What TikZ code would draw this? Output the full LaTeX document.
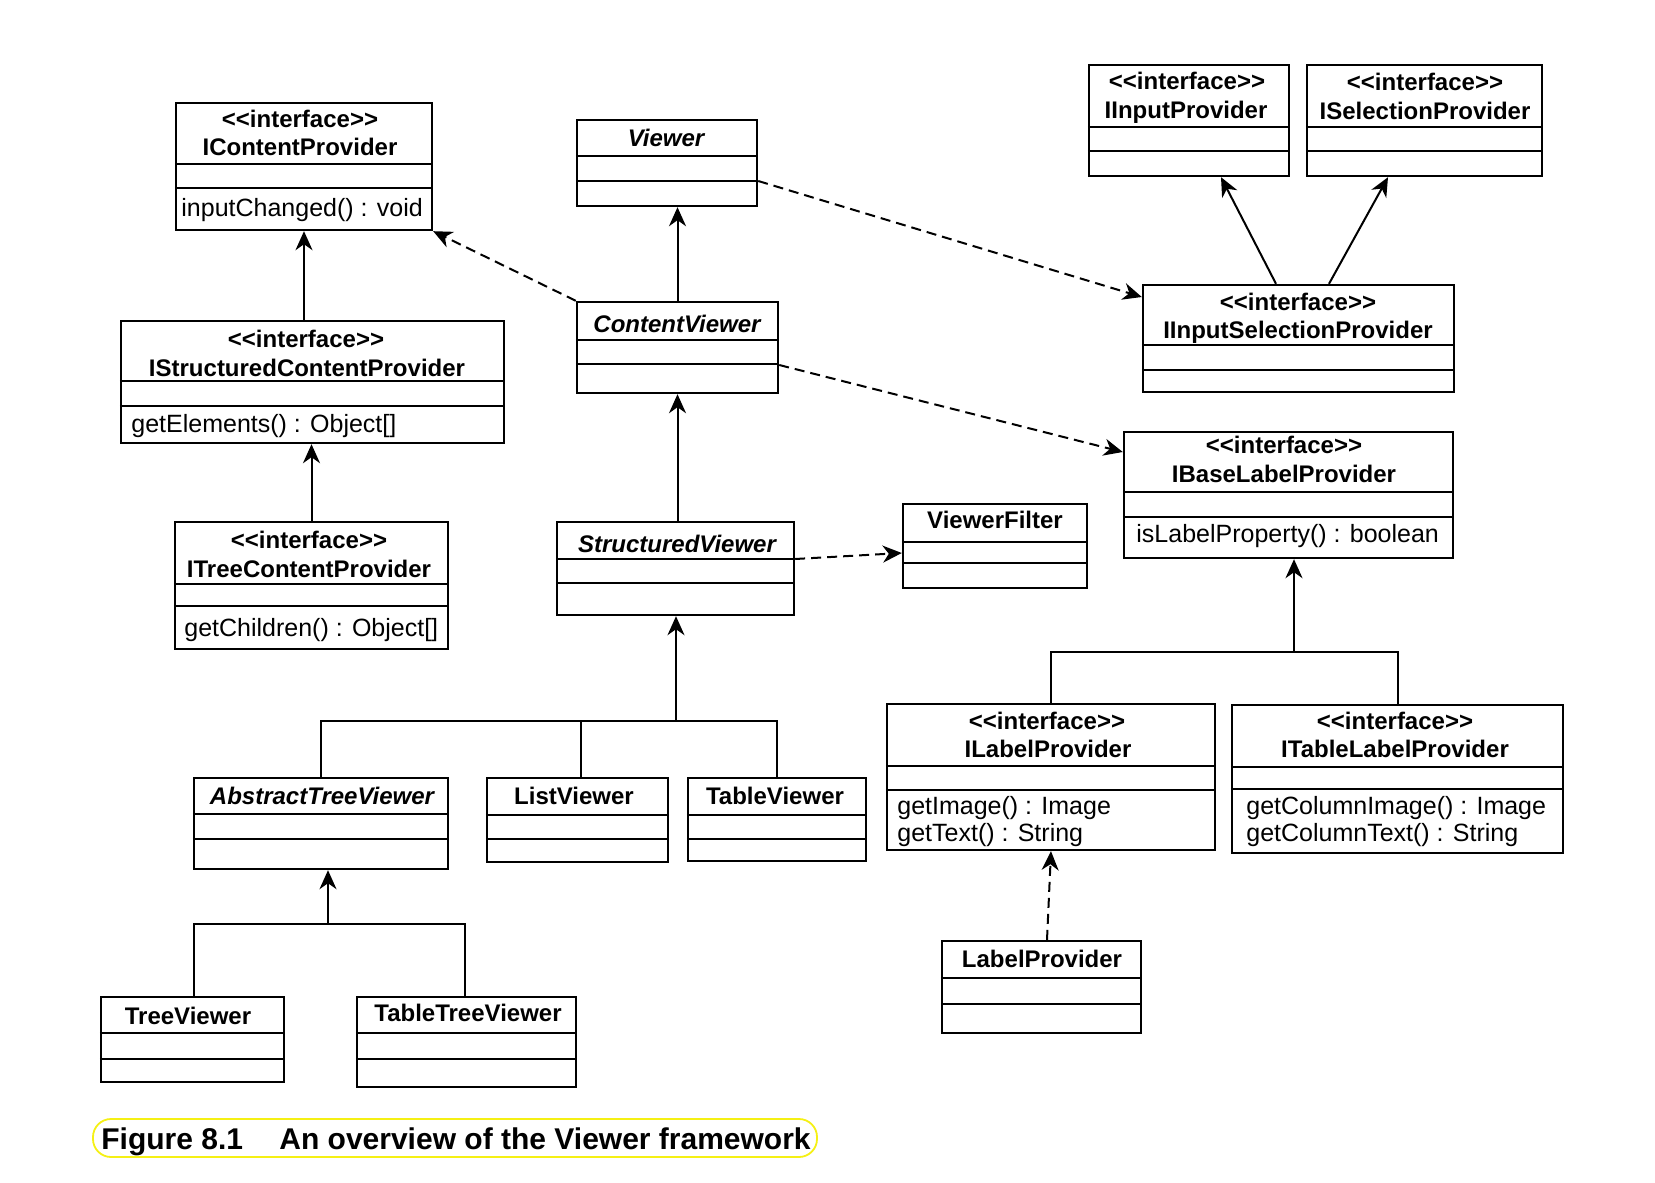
\documentclass[tikz,border=0pt]{standalone}
\usepackage{fontspec}
\setmainfont{Liberation Sans}
\usetikzlibrary{arrows.meta,fit}
\tikzset{
  cls/.style={draw, line width=1.2pt, inner sep=0pt},
  sepl/.style={line width=1.2pt},
  ttl/.style={font=\fontsize{12}{14}\selectfont\bfseries, anchor=base, inner sep=0pt},
  ittl/.style={font=\fontsize{12}{14}\selectfont\bfseries\itshape, anchor=base, inner sep=0pt},
  meth/.style={font=\fontsize{12.5}{15}\selectfont, anchor=base west, inner sep=0pt},
  conn/.style={line width=1pt},
  inh/.style={line width=1pt, -{Stealth[length=9.5pt,width=8.5pt,inset=3pt]}},
  dep/.style={inh, dash pattern=on 5pt off 3pt},
  capbox/.style={draw={rgb,255:red,245;green,240;blue,20}, line width=0.9pt, rounded corners=9pt, inner sep=0pt},
  captxt/.style={font=\fontsize{15}{18}\selectfont\bfseries, anchor=base west, inner sep=0pt},
}
\newcommand{\stereo}{<\kern0pt<interface>\kern0pt>}
\newcommand{\clsbox}[7]{%
  \node[cls, fit={(#2,#3) (#4,#5)}] (#1) {};
  \draw[sepl] (#1.west |- 0,#6) -- (#1.east |- 0,#6);
  \draw[sepl] (#1.west |- 0,#7) -- (#1.east |- 0,#7);
}
\begin{document}
\begin{tikzpicture}[x=0.5pt,y=-0.5pt]
\useasboundingbox (0,0) rectangle (1655,1183);

% boxes
\clsbox{icp}{176}{103}{432}{230}{164}{188}
\clsbox{viewer}{577}{120}{757}{206}{156}{181}
\clsbox{cv}{577}{302}{778}{393}{340}{364}
\clsbox{iscp}{121}{321}{504}{443}{381}{406}
\clsbox{itcp}{175}{522}{448}{649}{584}{606}
\clsbox{sv}{557}{522}{794}{615}{559}{583}
\clsbox{iip}{1089}{65}{1289}{176}{127}{151}
\clsbox{isp}{1307}{65}{1542}{176}{127}{151}
\clsbox{iisp}{1143}{285}{1454}{392}{345}{370}
\clsbox{iblp}{1124}{432}{1453}{558}{492}{517}
\clsbox{vf}{903}{504}{1087}{588}{542}{563}
\clsbox{atv}{194}{778}{448}{869}{814}{839}
\clsbox{lv}{487}{778}{668}{862}{815}{839}
\clsbox{tabv}{688}{778}{866}{861}{815}{839}
\clsbox{tv}{101}{997}{284}{1082}{1033}{1059}
\clsbox{ttv}{357}{997}{576}{1087}{1033}{1059}
\clsbox{ilp}{887}{704}{1215}{850}{766}{790}
\clsbox{itlp}{1232}{705}{1563}{853}{767}{789}
\clsbox{lp}{942}{941}{1141}{1033}{978}{1004}

% texts
\node[ttl] (icp-s) at (300,127) {\stereo};
\node[ttl] (icp-n) at (300,155) {IContentProvider};
\node[meth] (icp-m) at (181,216) {inputChanged() : void};

\node[ittl] (viewer-n) at (666,146) {Viewer};
\node[ittl] (cv-n) at (677,332) {ContentViewer};

\node[ttl] (iscp-s) at (306,347) {\stereo};
\node[ttl] (iscp-n) at (307,376) {IStructuredContentProvider};
\node[meth] (iscp-m) at (131,432) {getElements() : Object[]};

\node[ttl] (itcp-s) at (309,548) {\stereo};
\node[ttl] (itcp-n) at (309,577) {ITreeContentProvider};
\node[meth] (itcp-m) at (184,636) {getChildren() : Object[]};

\node[ittl] (sv-n) at (677,552) {StructuredViewer};

\node[ttl] (iip-s) at (1187,89) {\stereo};
\node[ttl] (iip-n) at (1186,118) {IInputProvider};
\node[ttl] (isp-s) at (1425,90) {\stereo};
\node[ttl] (isp-n) at (1425,119) {ISelectionProvider};
\node[ttl] (iisp-s) at (1298,310) {\stereo};
\node[ttl] (iisp-n) at (1298,338) {IInputSelectionProvider};

\node[ttl] (iblp-s) at (1284,453) {\stereo};
\node[ttl] (iblp-n) at (1284,482) {IBaseLabelProvider};
\node[meth] (iblp-m) at (1136,542) {isLabelProperty() : boolean};

\node[ttl] (vf-n) at (995,528) {ViewerFilter};

\node[ittl] (atv-n) at (322,804) {AbstractTreeViewer};
\node[ttl] (lv-n) at (574,804) {ListViewer};
\node[ttl] (tabv-n) at (775,804) {TableViewer};
\node[ttl] (tv-n) at (188,1024) {TreeViewer};
\node[ttl] (ttv-n) at (468,1021) {TableTreeViewer};

\node[ttl] (ilp-s) at (1047,729) {\stereo};
\node[ttl] (ilp-n) at (1048,757) {ILabelProvider};
\node[meth] (ilp-m1) at (897,814) {getImage() : Image};
\node[meth] (ilp-m2) at (897,841) {getText() : String};

\node[ttl] (itlp-s) at (1395,729) {\stereo};
\node[ttl] (itlp-n) at (1395,757) {ITableLabelProvider};
\node[meth] (itlp-m1) at (1246,814) {getColumnImage() : Image};
\node[meth] (itlp-m2) at (1246,841) {getColumnText() : String};

\node[ttl] (lp-n) at (1042,967) {LabelProvider};

% connectors: left column
\draw[inh] (iscp.north -| icp.south) -- (icp.south);
\draw[inh] (itcp.north) -- (itcp.north |- iscp.south);
\draw[dep] (cv.north west) -- (icp.south east);

% middle column
\draw[inh] (cv.north) -- (cv.north |- viewer.south);
\draw[inh] (sv.north -| cv.south) -- (cv.south);
\draw[dep] (viewer.east |- 0,181) -- (iisp.west |- 0,297);
\draw[dep] (cv.east |- 0,365) -- (iblp.west |- 0,452);
\draw[dep] (sv.east |- 0,559) -- (vf.west |- 0,553);

% IInputSelectionProvider generalisations
\draw[inh] (iisp.north -| 1276,0) -- (iip.south -| 1221,0);
\draw[inh] (iisp.north -| 1329,0) -- (isp.south -| 1388,0);

% viewers hierarchy
\coordinate (j1) at (676,721);
\draw[conn] (atv.north) -- (atv.north |- j1) -- (tabv.north |- j1) -- (tabv.north);
\draw[conn] (lv.north -| 581,0) -- (581,721);
\draw[inh] (j1) -- (sv.south -| j1);

\coordinate (j2) at (328,924);
\draw[conn] (tv.north -| 194,0) -- (194,924) -- (465,924) -- (ttv.north -| 465,0);
\draw[inh] (j2) -- (atv.south -| j2);

% label providers hierarchy
\coordinate (j3) at (1294,652);
\draw[conn] (ilp.north) -- (ilp.north |- j3) -- (itlp.north |- j3) -- (itlp.north);
\draw[inh] (j3) -- (iblp.south -| j3);
\draw[dep] (lp.north -| 1047,0) -- (ilp.south -| 1051,0);

% caption
\node[capbox, fit={(93,1119) (817,1157)}] (cap) {};
\node[captxt] (cap-a) at (101,1149) {Figure 8.1};
\node[captxt] (cap-b) at (279,1149) {An overview of the Viewer framework};
\end{tikzpicture}
\end{document}
